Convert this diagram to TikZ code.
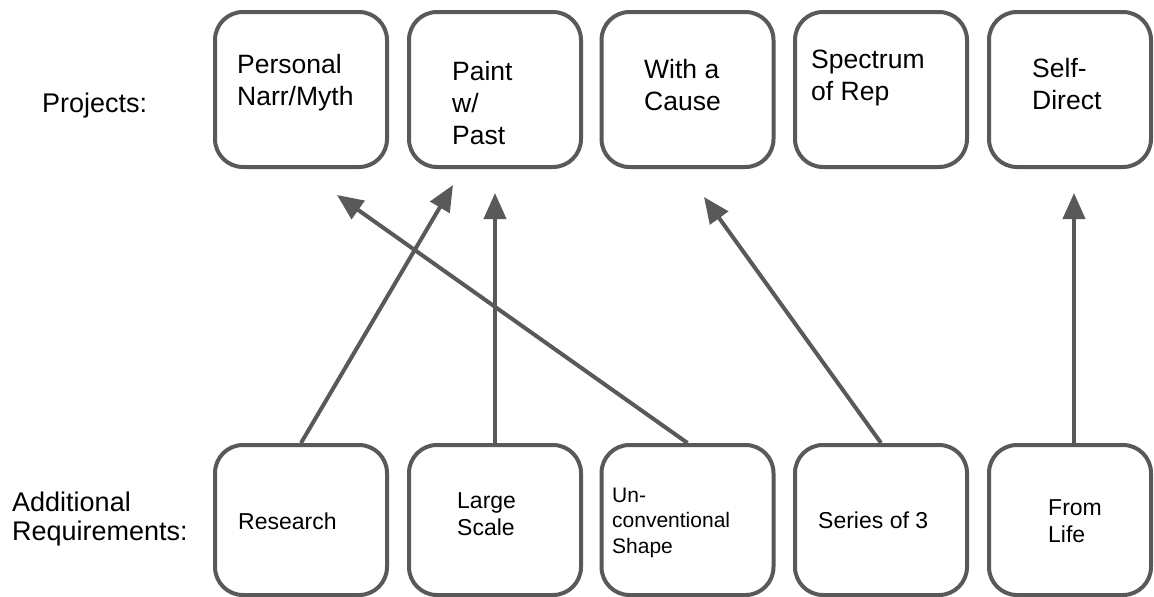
\documentclass[tikz,border=0pt]{standalone}
\usepackage{fontspec}
\setmainfont{Liberation Sans}
\usetikzlibrary{arrows.meta}

\definecolor{linegray}{HTML}{595959}

\tikzset{
    box/.style={draw=linegray, line width=4pt, rounded corners=28pt, minimum width=172pt, minimum height=155pt, inner sep=0pt},
    lowbox/.style={box, minimum height=150pt},
    link/.style={draw=linegray, line width=4pt, -{Triangle[length=26pt,width=22pt]}},
    toptext/.style={anchor=base west, align=left, inner sep=0pt, font=\fontsize{26.5}{32}\selectfont},
    lowtext/.style={anchor=base west, align=left, inner sep=0pt, font=\fontsize{23}{27}\selectfont},
    sidetext/.style={anchor=base west, align=left, inner sep=0pt, font=\fontsize{27}{29}\selectfont},
}

\begin{document}
\begin{tikzpicture}[x=1pt, y=-1pt]
    \useasboundingbox (0,0) rectangle (1154,597);

    % row labels (base = last line)
    \node[sidetext] (projects) at (42,112) {Projects:};
    \node[sidetext] (additional) at (12,540) {Additional\\Requirements:};

    % projects
    \node[box] (narr) at (301,89.5) {};
    \node[box] (paint) at (495,89.5) {};
    \node[box] (cause) at (687.5,89.5) {};
    \node[box] (spectrum) at (881,89.5) {};
    \node[box, minimum width=162pt] (selfdirect) at (1070,89.5) {};
    \node[toptext] (narr-txt) at (237,105) {Personal\\Narr/Myth};
    \node[toptext] (paint-txt) at (452,144) {Paint\\w/\\Past};
    \node[toptext] (cause-txt) at (644,110) {With a\\Cause};
    \node[toptext] (spectrum-txt) at (811,100) {Spectrum\\of Rep};
    \node[toptext] (selfdirect-txt) at (1032,109) {Self-\\Direct};

    % additional requirements
    \node[lowbox] (research) at (301,520) {};
    \node[lowbox] (large) at (495,520) {};
    \node[lowbox] (unconv) at (687.5,520) {};
    \node[lowbox] (series) at (881,520) {};
    \node[lowbox, minimum width=162pt] (fromlife) at (1070,520) {};
    \node[lowtext] (research-txt) at (238,529) {Research};
    \node[lowtext] (large-txt) at (457,535) {Large\\Scale};
    \node[lowtext, font=\fontsize{21}{25.5}\selectfont] (unconv-txt) at (612,553) {Un-\\conventional\\Shape};
    \node[lowtext] (series-txt) at (818,528) {Series of 3};
    \node[lowtext] (fromlife-txt) at (1048,542) {From\\Life};

    % arrow ends
    \coordinate (tipA) at (453,185);
    \coordinate (tipB) at (495,193);
    \coordinate (tipC) at (337,195);
    \coordinate (tipD) at (704,197);
    \coordinate (tipE) at (1074,193);

    \draw[link] (research.north) -- (tipA);
    \draw[link] (large.north) -- (tipB);
    \draw[link] (unconv.north) -- (tipC);
    \draw[link] (series.north) -- (tipD);
    \draw[link] (fromlife.north -| tipE) -- (tipE);
\end{tikzpicture}
\end{document}
